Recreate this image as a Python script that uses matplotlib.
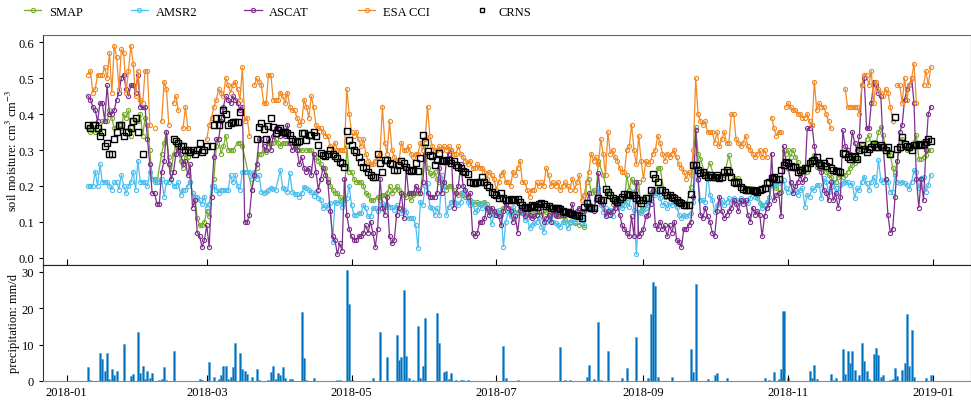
import numpy as np
import pandas as pd
import matplotlib
matplotlib.use('Agg')
import matplotlib.pyplot as plt
import matplotlib.dates as mdates

nan = np.nan
year_start = pd.Timestamp('2018-01-01')

# daily soil moisture (cm3/cm3); each list starts at day-of-year offset *_start
smap_start = 9
smap = [
    .36, .35, nan, .35, nan, .35, .38, nan, .38, .41,
    .39, .36, nan, .37, .36, .40, .39, .41, .34, nan,
    .38, .38, .40, .34, .39, .37, .30, .22, .22, .21,
    nan, .29, .32, .35, .28, .24, .29, .31, .30, .27,
    .25, .29, .28, .21, .18, .17, .11, .09, .09, .10,
    .13, .115, nan, .22, .31, .33, .29, .31, .34, .30,
    .30, .30, nan, .32, .32, .31, nan, nan, nan, .19,
    .23, .25, .29, .29, .30, .295, .32, .32, .32, .33,
    .32, .31, .32, .32, .32, nan, nan, .31, .31, .30,
    .30, nan, .30, .30, .30, .29, .28, .27, .26, .25,
    .25, .22, .20, .19, .18, .18, .17, .16, .16, .31,
    .24, .24, .22, .21, .21, .21, .20, .18, .175, .16,
    .16, nan, .17, .16, .175, .175, .18, .20, .18, .19,
    .20, .19, .18, .175, .17, .18, .16, .175, .18, .18,
    .18, nan, .31, .25, .235, .23, .24, .22, .21, .21,
    .20, .19, .20, .20, .19, .18, .175, .18, .175, .17,
    .17, .16, .155, .15, .155, .15, .15, .155, .15, .14,
    .13, .13, .13, .125, nan, .14, nan, .14, nan, .133,
    nan, .128, nan, .124, nan, .119, nan, .124, nan, .128,
    nan, .119, nan, .128, nan, .119, nan, .115, nan, .115,
    nan, .105, nan, .10, nan, .096, nan, .092, nan, .087,
    .21, .22, .18, .19, .18, .27, nan, .23, nan, .18,
    .17, .15, .16, .15, .15, .15, .16, .23, .19, .22,
    .21, .19, .21, .13, .14, .14, nan, .18, nan, .18,
    .25, .25, nan, .17, nan, .166, nan, .156, nan, .152,
    .152, nan, .147, nan, .198, nan, .364, .29, .276, nan,
    .23, nan, .263, nan, .221, nan, .221, nan, .23, nan,
    .286, nan, .221, nan, .221, nan, .198, nan, .193, nan,
    .184, nan, .175, nan, .147, nan, .138, nan, .2025, nan,
    .193, nan, .184, .30, .29, .30, .281, .30, .281, .267,
    nan, .24, .249, .24, .263, .276, .286, .253, .263, .258,
    .249, .24, .23, .226, .212, .212, .226, .23, .226, .23,
    .24, .249, .258, .263, .272, .304, .313, .30, .332, .341,
    .313, .323, .318, .35, .364, .341, .304, .29, .286, .251,
    .24, nan, .304, .332, .313, .30, .304, .313, nan, .341,
    .276, .276, .281, .286, .30, .30,
]

amsr2_start = 9
amsr2 = [
    .20, .20, .20, .24, .20, .26, .21, .21, .21, .20,
    .19, .21, .21, .19, .23, .20, .18, .20, .21, .24,
    .19, .27, .21, .21, .21, .20, .24, .22, .21, .22,
    .21, .22, .17, .21, .21, .22, .20, .20, .21, .175,
    .19, .19, .20, .21, .18, .17, .17, .16, .15, .17,
    .14, .15, .20, .20, .19, .18, .19, .19, .19, .19,
    .23, .21, .23, .20, .19, .24, .24, .24, .24, .22,
    .24, .22, .23, .184, .179, .184, .189, .195, .191, .189,
    nan, .244, .193, .191, .184, .235, .184, .177, .177, .17,
    .179, .198, .193, .189, .184, .173, .184, .166, .161, .138,
    .147, .138, .152, .045, .156, .152, .158, .142, .152, .166,
    .20, .147, .119, .119, .124, .124, .147, .138, .115, .115,
    .138, .138, .13, .138, .152, .142, .147, .142, .142, .133,
    .147, .138, .124, .133, .128, .11, .112, .11, .092, .027,
    .156, .147, .20, .207, .142, .138, .119, .138, .119, .23,
    .207, .119, .142, .156, .156, .152, .147, .156, .184, .175,
    .156, .147, .156, .128, .133, .152, .138, .152, .133, .128,
    .094, .119, .119, .133, .119, .031, .10, .128, .115, .142,
    .119, .124, .138, .128, .105, .112, .082, .092, .096, .10,
    .11, .087, .073, .10, .105, .119, .10, .096, .092, .087,
    .10, .10, .082, .096, .105, .10, .119, .115, .105, .092,
    .156, .138, .133, .138, .166, .193, .147, .128, .138, .119,
    .133, .115, .152, .138, .161, .138, .147, .156, .142, .184,
    .133, .01, .128, .124, .133, .138, .147, .166, .184, .175,
    .184, .166, .147, .152, .138, .152, .147, .156, .142, .119,
    .11, .119, .115, .119, .124, .156, .249, .216, .161, .161,
    .156, .235, .175, .161, .128, .147, .152, .161, .147, .156,
    .166, .152, .166, .161, .156, .166, .161, .156, .152, .166,
    .184, .17, .166, .152, .138, .147, .156, .17, .212, .2025,
    .2025, .207, .212, .216, .193, .184, .207, .179, .189, .175,
    .189, .193, .142, .175, .17, .193, .189, .2025, .2025, .166,
    .221, .212, .184, .198, .212, .193, .184, .2025, .207, .212,
    .212, .2025, .207, .166, .193, .189, .212, .226, .207, .189,
    .212, .226, .2025, .272, .216, .212, .216, .212, .184, .184,
    .23, .212, .207, .212, .207, .2025, .191, .212, .244, .24,
    .193, .221, .226, .184, .2025, .23,
]

ascat_start = 9
ascat = [
    .45, .44, .42, .41, .38, .43, .43, .38, .48, .40,
    .40, .41, .44, .46, .50, .51, .47, .45, .48, .48,
    .46, .51, .42, .42, .42, .33, .26, .18, .18, .15,
    .15, .24, .27, .35, .26, .22, .24, .29, .30, .29,
    .26, .27, .23, .26, .14, .16, .07, .06, .03, .05,
    .09, .03, .17, .28, .33, .33, .38, .42, .45, .44,
    .43, .45, .44, .43, .41, .42, .10, .10, .12, .19,
    .23, .26, .33, .33, .31, .30, .33, .30, .34, .36,
    .36, .34, .35, .34, .37, .32, .30, .31, .30, .26,
    .28, .25, .24, .25, .23, .29, .24, .19, .22, .25,
    .23, .21, .13, .06, .05, .01, .04, .02, .22, .12,
    .08, .06, .05, .05, .06, .06, .07, .09, .07, .10,
    .07, .03, .08, .22, .14, .12, .17, .06, .04, .05,
    .12, .14, .18, .11, .25, .18, .18, .18, .20, .19,
    .18, .21, .29, .18, .17, .17, .17, .18, .25, .18,
    .21, .27, .29, .30, .14, .18, .20, .26, .20, .19,
    .17, .18, .07, .06, .07, .10, .10, .11, .14, .12,
    .14, .13, .12, .115, .09, .13, .15, .14, .13, .10,
    .115, .07, .13, .14, .115, .14, .12, .11, .115, .12,
    .15, .13, .10, .11, .12, .10, .13, .12, .115, .14,
    .12, .12, .13, .12, .15, .115, .13, .14, .13, .13,
    .14, .18, .14, .13, .16, .235, .16, .15, .115, .13,
    .12, .13, .14, .15, .12, .09, .08, .07, .06, .115,
    .06, .21, .06, .07, .08, .115, .12, .15, .19, .09,
    .08, .10, .08, .09, .06, .09, .07, .10, .05, .045,
    .03, .08, .08, .09, .10, .17, .355, .22, .12, .11,
    .14, .115, .10, .07, .06, .13, .17, .13, .11, .12,
    .13, .14, .16, .15, .13, .16, .15, .16, .12, .10,
    .14, .12, .13, .12, .06, .115, .14, .15, .29, .16,
    .175, .18, .115, .31, .27, .25, .21, .18, .20, .21,
    .23, .21, .22, .36, .36, .37, .31, .27, .25, .24,
    .19, .18, .16, .21, .16, .18, .14, .17, .355, .31,
    .30, .29, .35, .32, .30, .34, .48, .50, .36, .36,
    .43, .49, .48, .46, .45, .31, .22, .12, .07, .08,
    .17, .27, .35, .37, .44, .47, .48, .50, .43, .22,
    .14, .22, .16, .30, .40, .42,
]

esa_cci_start = 9
esa_cci = [
    .51, .52, .46, .47, .51, .51, .51, .53, .50, .57,
    .46, .59, .56, .47, .58, .57, .46, .52, .59, .54,
    .45, .52, .44, .43, .52, .52, .37, nan, .36, nan,
    nan, .38, .49, .47, .37, nan, .43, .45, .41, nan,
    .36, .42, .36, nan, nan, nan, nan, nan, nan, nan,
    .33, .37, .39, .42, .44, .47, .46, .45, .50, .48,
    .46, .48, .49, .47, .44, .53, .38, .39, .34, nan,
    .48, .50, .49, .48, .43, .43, .51, .51, .44, .44,
    .44, .46, .45, .43, .46, .42, .41, .41, .39, .37,
    .38, .44, .42, .39, .45, .42, .37, .36, .36, .35,
    .34, .34, .31, .30, .32, .30, .30, .30, .30, .47,
    .40, .35, .34, .35, .33, .31, .33, .29, .27, .26,
    .26, .27, .28, .29, .42, .32, .29, .38, .30, .28,
    .27, .27, .32, .30, .30, .31, .29, .28, .29, .29,
    .32, .30, .33, .42, .34, .31, .30, .30, .31, .30,
    .31, .30, .31, .30, .29, .29, .31, .29, .28, .27,
    .26, .27, .25, .25, .26, .25, .25, .24, .22, .24,
    .23, .22, .19, .21, .23, .24, .21, .21, .20, .24,
    .23, .25, .27, .21, .21, .19, .17, .19, .19, .21,
    .20, .21, .20, .25, .23, .20, .21, .20, .21, .19,
    .20, .21, .20, .19, .22, .19, .21, .23, .16, .175,
    .21, .24, .29, .27, .28, .26, .33, .29, .23, .35,
    .29, .30, .28, .27, .25, .24, .24, .30, .31, .37,
    .30, .26, .34, .27, .22, .27, .26, .27, .29, .30,
    .34, .32, .29, .27, .29, .28, .29, .30, .28, .26,
    .25, .24, .22, .24, .23, .30, .50, .40, .38, .37,
    .38, .35, .35, .35, .32, .35, .31, .33, .35, .32,
    .32, .40, .40, .33, .32, .31, .32, .34, .31, .30,
    .29, .28, .29, .30, .28, .30, .28, nan, .39, .36,
    .34, .35, .35, nan, .42, .43, .42, .41, .41, .40,
    .40, .39, .39, .40, .38, .37, .49, .41, .43, .42,
    .42, .40, .38, .36, nan, nan, nan, nan, nan, .47,
    .42, .42, .42, .42, .42, .40, .48, .51, .51, .48,
    .52, .43, .49, .47, .46, .45, .47, .46, .42, .38,
    nan, .48, .48, .43, .50, .44, .48, .50, .54, .43,
    nan, nan, .48, .52, .48, .53,
]

crns_start = 9
crns = [
    .37, .36, .37, .37, .36, .34, .35, .31, .32, .29,
    .29, .33, .35, .37, .37, .34, .35, .35, .36, .38,
    .39, .35, nan, .29, nan, nan, nan, nan, nan, nan,
    nan, nan, nan, nan, nan, nan, .33, .325, .32, .31,
    .31, .30, .30, .295, .30, .29, .30, .32, .295, .30,
    .31, nan, .31, .37, .39, .37, .39, .41, .40, .37,
    .376, .378, .378, .378, .406, nan, nan, nan, nan, nan,
    nan, .33, .364, .374, .358, .332, .367, .389, .364, .346,
    .355, .36, .35, .35, .346, .341, .33, .325, .323, .325,
    .346, .346, .327, .341, .341, .35, .339, .315, .293, .286,
    .284, .288, .30, .29, .283, .279, .267, .263, .253, .353,
    .327, .315, .30, .295, .281, .267, .253, .249, .24, .23,
    .226, .226, .288, .263, .24, .272, .272, .263, .26, .244,
    .244, .258, .269, .263, .253, .244, .241, .244, .263, .241,
    .278, .341, .321, .297, .286, .284, .258, .272, .293, .269,
    .272, .269, .272, .263, .269, .258, .253, .249, .241, .238,
    .232, .212, .207, .209, .21, .212, .226, .21, .2025, .198,
    .184, .177, .175, .166, .179, .166, .161, .161, .164, .161,
    .161, .164, .156, .147, .142, .14, .142, .147, .145, .142,
    .149, .152, .149, .145, .145, .14, .138, .14, .138, .136,
    .13, .128, .127, .124, .121, .119, .119, .115, .11, .142,
    .152, .142, .14, .138, nan, .166, .161, .161, .191, .184,
    .175, .166, .161, .156, .164, .17, .177, .177, .175, .175,
    .175, .167, .161, .152, .16, .166, .166, .189, .232, .221,
    .212, .189, .189, .184, .175, .175, .17, .166, .161, .156,
    .152, .147, .147, .147, .177, .258, .258, .244, .235, .24,
    .23, .226, .23, .226, .226, .23, .221, .226, .24, .244,
    .24, .226, .212, .207, .212, .198, .191, .189, .189, .189,
    .189, .186, .184, .189, .191, .193, .207, .212, .221, .226,
    .219, .219, .244, .258, .267, .263, .255, .253, .253, .24,
    .244, .244, .249, .249, .263, .269, .272, .281, .263, .258,
    .263, .256, .269, .251, .244, .241, .241, .24, .293, .288,
    .281, .276, .284, .281, .275, .30, .313, .304, .295, .304,
    .309, .318, .309, .309, .313, .309, .30, .309, .29, nan,
    .392, .304, .309, .337, .318, .312, .309, .30, .313, .313,
    .318, .313, .318, .321, .33, .325,
]

# daily precipitation (mm/d), only rainy days
rain_day = [
    9, 10, 14, 15, 16, 17, 18, 19, 20, 21, 24, 27, 28, 30, 31, 32, 33, 34, 35, 36,
    39, 40, 41, 42, 45, 56, 57, 60, 62, 64, 65, 66, 67, 68, 69, 70, 71, 73, 74, 75,
    76, 78, 80, 81, 85, 86, 87, 88, 89, 90, 91, 92, 94, 95, 99, 100, 101, 104, 114, 115,
    118, 119, 120, 129, 132, 135, 139, 140, 141, 142, 143, 144, 146, 148, 149, 150, 151, 156, 157, 159,
    160, 161, 162, 164, 166, 167, 169, 184, 185, 190, 208, 210, 212, 219, 220, 222, 224, 225, 228, 234,
    236, 240, 245, 246, 247, 248, 249, 255, 263, 264, 265, 270, 273, 274, 278, 294, 296, 298, 300, 301,
    302, 304, 313, 314, 315, 316, 322, 323, 324, 327, 328, 329, 330, 331, 332, 333, 334, 335, 336, 337,
    338, 340, 341, 342, 343, 344, 347, 348, 349, 350, 352, 353, 354, 355, 356, 357, 362, 364,
]
rain_mm = [
    3.7, 0.2, 7.8, 6.0, 2.6, 7.8, 0.5, 3.4, 1.7, 2.7, 10.1, 1.4, 1.8, 13.5, 2.3, 4.1, 0.5, 2.6, 0.7, 2.1,
    0.3, 0.6, 3.9, 0.2, 8.1, 0.6, 0.4, 5.3, 1.2, 0.6, 1.6, 4.1, 4.0, 0.6, 1.2, 3.9, 10.5, 7.6, 3.2, 2.8,
    1.8, 1.2, 3.4, 0.2, 0.4, 2.5, 4.1, 0.6, 2.2, 1.7, 3.9, 0.9, 0.5, 0.5, 19.0, 6.4, 0.4, 0.7, 0.4, 0.2,
    30.3, 21.1, 0.4, 0.9, 13.5, 6.7, 12.6, 5.7, 6.6, 25.0, 6.9, 0.9, 0.4, 15.1, 0.7, 4.1, 17.4, 18.6, 10.5, 2.5,
    2.8, 0.5, 2.1, 0.4, 0.3, 0.4, 0.2, 9.6, 0.7, 0.3, 9.4, 0.2, 0.2, 1.2, 4.3, 0.5, 16.3, 0.3, 8.1, 0.7,
    3.6, 12.1, 0.8, 18.3, 27.1, 26.1, 1.2, 1.2, 8.7, 2.5, 26.5, 0.5, 1.6, 2.3, 0.7, 0.8, 0.4, 2.5, 0.5, 3.2,
    19.3, 0.9, 2.6, 0.9, 4.3, 0.5, 1.8, 0.3, 0.9, 8.9, 2.0, 8.3, 4.9, 8.2, 2.9, 0.3, 1.6, 10.4, 5.5, 2.6,
    0.5, 7.5, 9.1, 7.1, 1.1, 1.7, 0.3, 0.6, 3.5, 1.4, 3.0, 5.0, 18.5, 4.1, 13.9, 1.1, 0.9, 1.6,
]

labels = ['SMAP', 'AMSR2', 'ASCAT', 'ESA CCI', 'CRNS']
colors = ['#77AC30', '#4DBEEE', '#7E2F8E', '#F28A26', 'k']


def day_dates(start, n):
    return year_start + pd.to_timedelta(start + np.arange(n), unit='D')


plt.rcParams['font.family'] = 'serif'
plt.rcParams['font.serif'] = ['Liberation Serif', 'DejaVu Serif']
plt.rcParams['mathtext.fontset'] = 'stix'
plt.rcParams['font.size'] = 9

fig = plt.figure(figsize=(9.71, 4.02), dpi=100)
ax1 = fig.add_axes([0.0443, 0.3383, 0.9557, 0.5721])
ax2 = fig.add_axes([0.0443, 0.0498, 0.9557, 0.2885], sharex=ax1)

handles = []
series = [(smap_start, smap, True), (amsr2_start, amsr2, True),
          (ascat_start, ascat, True), (esa_cci_start, esa_cci, False)]
for (start, vals, join_gaps), col, lab in zip(series, colors, labels):
    vals = np.array(vals, dtype=float)
    dates = day_dates(start, len(vals))
    if join_gaps:
        ok = ~np.isnan(vals)
        dates, vals = dates[ok], vals[ok]
    h, = ax1.plot(dates, vals, '-o', color=col, lw=0.9, ms=3.0,
                  mfc='none', mew=0.8, label=lab)
    handles.append(h)

crns_vals = np.array(crns, dtype=float)
h, = ax1.plot(day_dates(crns_start, len(crns_vals)), crns_vals, 's', color='k',
              ms=5.0, mfc='none', mew=1.0, ls='none', label='CRNS')
handles.append(h)

rain_dates = year_start + pd.to_timedelta(np.array(rain_day), unit='D')
ax2.bar(rain_dates, rain_mm, width=0.85, color='#0072BD',
        edgecolor='#4FA0D8', linewidth=0.4)

ax1.set_ylim(-0.02, 0.62)
ax1.set_yticks(np.arange(0, 0.61, 0.1))
ax1.yaxis.set_major_formatter(plt.FormatStrFormatter('%.1f'))
ax2.set_ylim(0, 31.8)
ax2.set_yticks([0, 10, 20, 30])
ax1.set_xlim(pd.Timestamp('2017-12-22'), pd.Timestamp('2019-01-17'))

ax2.xaxis.set_major_locator(mdates.MonthLocator(bymonth=[1, 3, 5, 7, 9, 11]))
ax2.xaxis.set_major_formatter(mdates.DateFormatter('%Y-%m'))

ax1.tick_params(axis='x', direction='in', length=4, labelbottom=False)
ax1.tick_params(axis='y', direction='out', length=3)
ax2.tick_params(axis='x', direction='in', length=4)
ax2.tick_params(axis='y', direction='out', length=3)

ax1.set_ylabel('soil moisture: cm$^3$ cm$^{-3}$')
ax2.set_ylabel('precipitation: mm/d')
ax1.yaxis.set_label_coords(-0.025, 0.5)
ax2.yaxis.set_label_coords(-0.025, 0.5)

for ax in (ax1, ax2):
    for side in ('left', 'right'):
        ax.spines[side].set_color('#333333')
ax1.spines['top'].set_color('#666666')
ax1.spines['bottom'].set_color('#222222')
ax2.spines['top'].set_color('#222222')
ax2.spines['bottom'].set_color('#888888')

# one legend entry per slot, spread over the top edge
legend_x = [0.013, 0.123, 0.24, 0.357, 0.476]
for h, lab, x in zip(handles, labels, legend_x):
    scale = 0.7 if lab == 'CRNS' else 1.0
    fig.legend([h], [lab], loc='center left', bbox_to_anchor=(x, 0.968),
               frameon=False, handlelength=1.4, handletextpad=0.6,
               markerscale=scale, fontsize=9)

fig.savefig('out.png', dpi=100)
